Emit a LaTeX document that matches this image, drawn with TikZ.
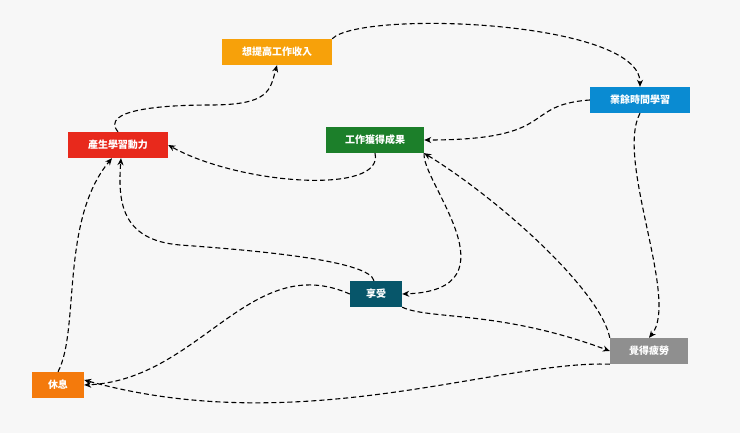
\documentclass[tikz,border=0pt]{standalone}
\usepackage{fontspec}
\newfontfamily\cjk{Noto Sans CJK TC}
\usetikzlibrary{arrows.meta}
\definecolor{bg}{HTML}{F7F7F7}
\definecolor{cOr}{HTML}{F7A10A}
\definecolor{cBl}{HTML}{0A8BD2}
\definecolor{cRd}{HTML}{E8291C}
\definecolor{cGr}{HTML}{1C7F2A}
\definecolor{cTl}{HTML}{07566A}
\definecolor{cOr2}{HTML}{F47A0C}
\definecolor{cGy}{HTML}{8F8F8F}
\tikzset{box/.style={fill=#1,text=white,font=\cjk\bfseries\fontsize{10}{11}\selectfont,inner sep=0pt,minimum height=26pt},
 link/.style={draw,black,line width=1.1pt,dash pattern=on 5pt off 3pt,-{Stealth[length=7pt,width=6pt]}}}
\begin{document}
\begin{tikzpicture}[x=1pt,y=-1pt]
\fill[bg] (0,0) rectangle (740,433);
\useasboundingbox (0,0) rectangle (740,433);
\node[box=cOr,minimum width=110pt] (a) at (277,52) {想提高工作收入};
\node[box=cBl,minimum width=100pt] (b) at (640,100) {業餘時間學習};
\node[box=cRd,minimum width=100pt] (c) at (118,145) {產生學習動力};
\node[box=cGr,minimum width=98pt] (d) at (375,140) {工作獲得成果};
\node[box=cTl,minimum width=52pt] (e) at (376,294) {享受};
\node[box=cOr2,minimum width=52pt] (f) at (58,385) {休息};
\node[box=cGy,minimum width=78pt] (g) at (649,351) {覺得疲勞};
\draw[link] (a.north east) .. controls (360,10) and (640,20) .. (b.north);
\draw[link] (b.west) .. controls (520,105) and (560,140) .. (d.east);
\draw[link] (b.south) .. controls (615,160) and (680,300) .. (g.north);
\draw[link] (c.north) .. controls (100,110) and (160,105) .. (210,105) .. controls (270,105) and (270,90) .. (a.south);
\draw[link] (d.south) .. controls (385,195) and (240,185) .. (c.east);
\draw[link] (d.south east) .. controls (420,180) and (520,290) .. (e.east);
\draw[link] (g.north west) .. controls (600,290) and (500,200) .. (d.south east);
\draw[link] ([xshift=-2pt]e.north) .. controls (370,260) and (250,250) .. (180,245) .. controls (120,240) and (118,200) .. ([xshift=3pt]c.south);
\draw[link] (e.south east) .. controls (430,320) and (500,310) .. (g.west);
\draw[link] (e.west) .. controls (250,250) and (200,380) .. (f.east);
\draw[link] (g.south west) .. controls (500,360) and (300,440) .. ([yshift=5pt]f.east);
\draw[link] (f.north) .. controls (80,330) and (60,220) .. ([xshift=-6pt]c.south);
\end{tikzpicture}
\end{document}
